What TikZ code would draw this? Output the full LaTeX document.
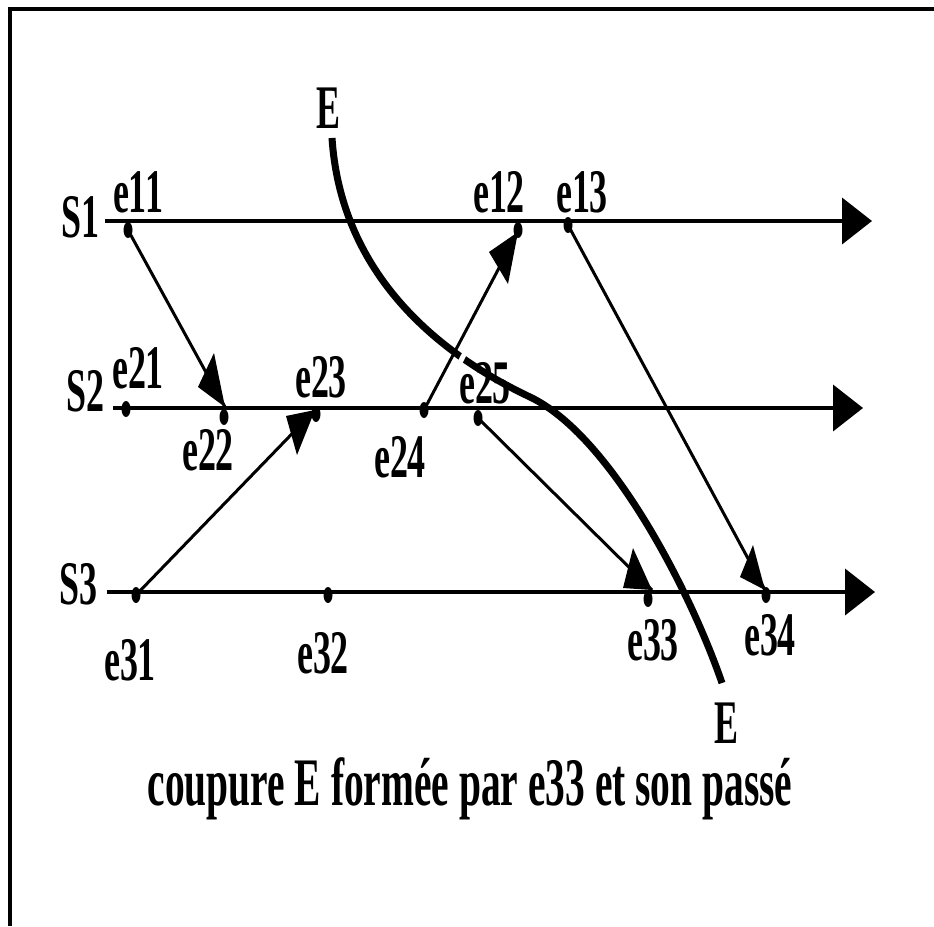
\documentclass[tikz,border=0pt]{standalone}
\usepackage{fontspec}
\newfontfamily\labfont{Liberation Serif}[UprightFont={* Bold}, BoldFont={* Bold}, FakeStretch=0.58]
\usetikzlibrary{arrows.meta,shapes.geometric}
\tikzset{
  lbl/.style={font=\labfont\fontsize{62}{62}\selectfont, inner sep=0pt, anchor=base},
  captext/.style={font=\labfont\fontsize{68}{68}\selectfont, inner sep=0pt, anchor=base},
  evdot/.style={ellipse, fill=black, inner sep=0pt, minimum width=9pt, minimum height=16pt},
  proc/.style={line width=4pt, -{Triangle[length=30pt,width=46pt]}},
  msg/.style={line width=3pt},
  head/.style={fill=black},
  cutline/.style={line width=7pt},
}
\begin{document}
\begin{tikzpicture}[x=1pt,y=-1pt]
\useasboundingbox (0,0) rectangle (934,926);
% frame
\draw[line width=3.5pt] (10,926) -- (10,9) -- (934,9);

% process lines
\coordinate (s1a) at (105,221); \coordinate (s1b) at (872,221);
\coordinate (s2a) at (113,408); \coordinate (s2b) at (863,408);
\coordinate (s3a) at (107,592); \coordinate (s3b) at (875,592);
\draw[proc] (s1a) -- (s1b);
\draw[proc] (s2a) -- (s2b);
\draw[proc] (s3a) -- (s3b);

\node[lbl] (S1) at (80,237) {S1};
\node[lbl] (S2) at (85,411) {S2};
\node[lbl] (S3) at (78,604) {S3};

% events
\node[evdot] (e11) at (128,230) {};
\node[evdot] (e12) at (518,230) {};
\node[evdot] (e13) at (568,225) {};
\node[evdot] (e21) at (126,409) {};
\node[evdot] (e22) at (224,417) {};
\node[evdot] (e23) at (316,414) {};
\node[evdot] (e24) at (424,410) {};
\node[evdot] (e25) at (478,418) {};
\node[evdot] (e31) at (136,595) {};
\node[evdot] (e32) at (328,595) {};
\node[evdot] (e33) at (648,599) {};
\node[evdot] (e34) at (766,595) {};

\node[lbl] (l11) at (138,212) {e11};
\node[lbl] (l12) at (499,212) {e12};
\node[lbl] (l13) at (582,212) {e13};
\node[lbl] (l21) at (138,388) {e21};
\node[lbl] (l22) at (208,470) {e22};
\node[lbl] (l23) at (321,397) {e23};
\node[lbl] (l24) at (400,477) {e24};
\node[lbl] (l25) at (485,403) {e25};
\node[lbl] (l31) at (130,680) {e31};
\node[lbl] (l32) at (323,673) {e32};
\node[lbl] (l33) at (653,660) {e33};
\node[lbl] (l34) at (770,655) {e34};

% cut E
\coordinate (Ea) at (332,138);
\coordinate (Em) at (530,397);
\coordinate (Eb) at (722,683);
\draw[cutline] (Ea) .. controls (340,260) and (420,345) .. (Em)
                    .. controls (610,435) and (690,590) .. (Eb);
\draw[white, line width=5pt] (458.8,364.8) -- (464.2,354.2);
\node[lbl] (Etop) at (328,128) {E};
\node[lbl] (Ebot) at (726,743) {E};

% messages
\coordinate (t22) at (225,407);
\coordinate (t23) at (315,410);
\coordinate (t12) at (518,232);
\coordinate (t33) at (652,590);
\coordinate (t34) at (765,590);

\draw[msg] (e11.center) -- (t22);
\fill[head] (t22) -- (198,387) -- (214,353) -- cycle;

\draw[msg] (e31.center) -- (t23);
\fill[head] (t23) -- (286,416) -- (297,455) -- cycle;

\draw[msg] (e24.center) -- (t12);
\fill[head] (t12) -- (489,252) -- (508,284) -- cycle;

\draw[msg] (e25.center) -- (t33);
\fill[head] (t33) -- (623,588) -- (633,548) -- cycle;

\draw[msg] (e13.center) -- (t34);
\fill[head] (t34) -- (740,577) -- (753,545) -- cycle;

% caption
\node[captext] (cap) at (470,805) {coupure E formée par e33 et son passé};
\end{tikzpicture}
\end{document}
